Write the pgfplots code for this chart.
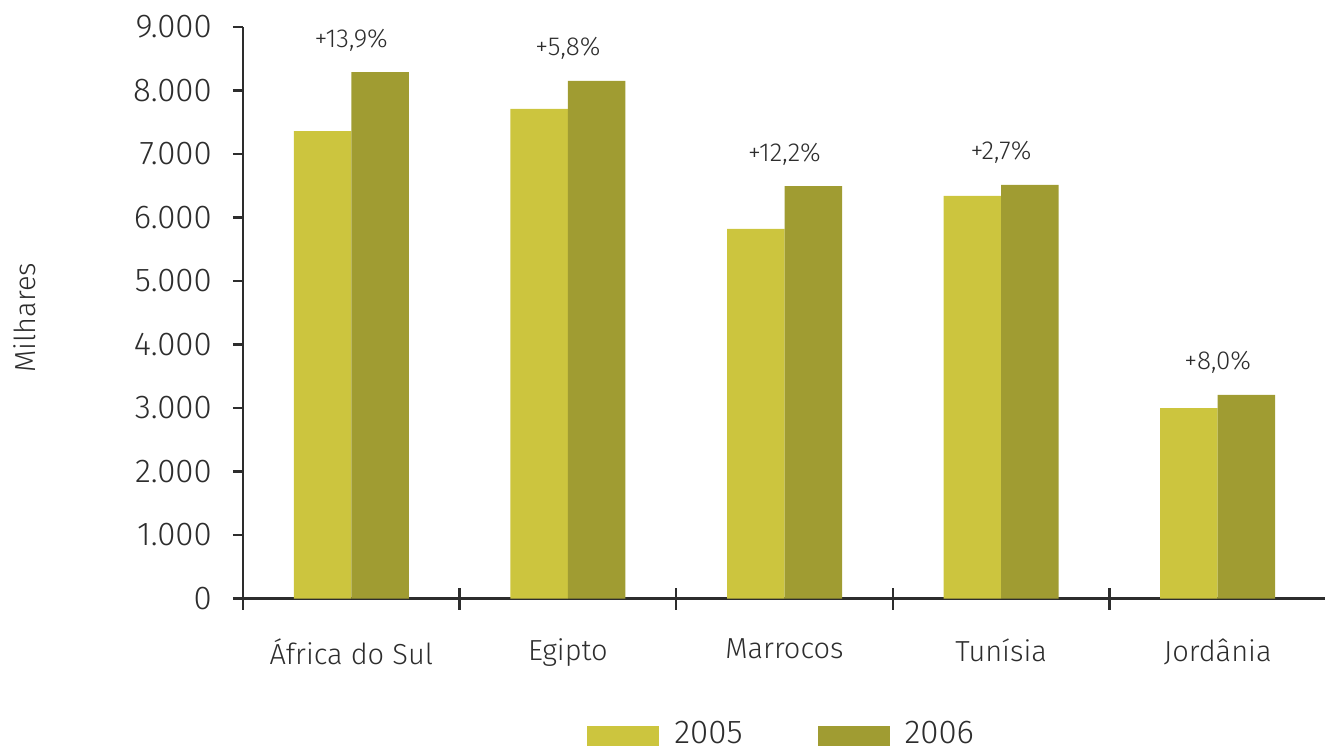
\documentclass[border=0pt]{standalone}
\usepackage{fontspec}
\IfFontExistsTF{Fira Sans Light}{\setmainfont{Fira Sans Light}}{\setmainfont{Fira Sans}}
\usepackage{pgfplots}
\pgfplotsset{compat=1.18}
\definecolor{cA}{HTML}{CCC53E}
\definecolor{cB}{HTML}{A09C32}
\definecolor{axg}{HTML}{2D2D2D}
\begin{document}
\begin{tikzpicture}[x=1pt,y=1pt]
\path[use as bounding box] (-243,-151.5) rectangle (1082,598.5);
\begin{axis}[
  at={(0,0)}, anchor=south west,
  scale only axis, width=1083pt, height=571.5pt,
  xmin=-0.5, xmax=4.5, ymin=0, ymax=9000,
  axis x line=bottom, axis y line=left,
  axis line style={-, draw=axg, line width=2.5pt},
  every tick label/.append style={text=axg},
  xtick={0,1,2,3,4},
  xticklabels={África do Sul, Egipto, Marrocos, Tunísia, Jordânia},
  xtick style={draw=none},
  xticklabel style={inner sep=0pt, yshift=-30pt, font=\fontsize{29}{34}\selectfont},
  extra x ticks={-0.5,0.5,1.5,2.5,3.5},
  extra x tick labels={},
  extra x tick style={xtick style={draw=axg, line width=2.5pt}, major tick length=22pt, tick align=center},
  ytick={0,1000,...,9000},
  ytick style={draw=axg, line width=2.5pt},
  major tick length=10pt,
  tick align=outside,
  yticklabel style={inner sep=0pt, xshift=-21pt, font=\fontsize{33}{38}\selectfont, /pgf/number format/.cd, 1000 sep={.}, assume math mode=true},
  scaled y ticks=false,
  ylabel={Milhares},
  ylabel style={at={(axis description cs:-0.2013,0.491)}, anchor=center, font=\fontsize{29}{34}\selectfont, text=axg},
  legend columns=2,
  legend style={draw=none, fill=none, at={(axis description cs:0.4965,-0.2365)}, anchor=center,
    font=\fontsize{33}{38}\selectfont, text=axg,
    /tikz/every even column/.append style={column sep=75pt},
    nodes={inner sep=0pt}},
  legend image code/.code={\fill[#1] (0pt,-13pt) rectangle (72pt,7pt);},
  clip=false,
]
\addplot[ybar, bar width=57.5pt, bar shift=-28.75pt, fill=cA, draw=none]
  coordinates {(0,7362) (1,7709) (2,5819) (3,6339) (4,3000)};
\addlegendentry{\hspace{15pt}2005}
\addplot[ybar, bar width=57.5pt, bar shift=28.75pt, fill=cB, draw=none]
  coordinates {(0,8291) (1,8150) (2,6496) (3,6512) (4,3205)};
\addlegendentry{\hspace{15pt}2006}
\begin{scope}[every node/.style={anchor=base, text=axg, font=\fontsize{26}{30}\selectfont, inner sep=0pt, yshift=25pt}]
\node at (axis cs:0,8291) {+13,9\%};
\node at (axis cs:1,8150) {+5,8\%};
\node at (axis cs:2,6496) {+12,2\%};
\node at (axis cs:3,6512) {+2,7\%};
\node at (axis cs:4,3205) {+8,0\%};
\end{scope}
\end{axis}
\end{tikzpicture}
\end{document}
